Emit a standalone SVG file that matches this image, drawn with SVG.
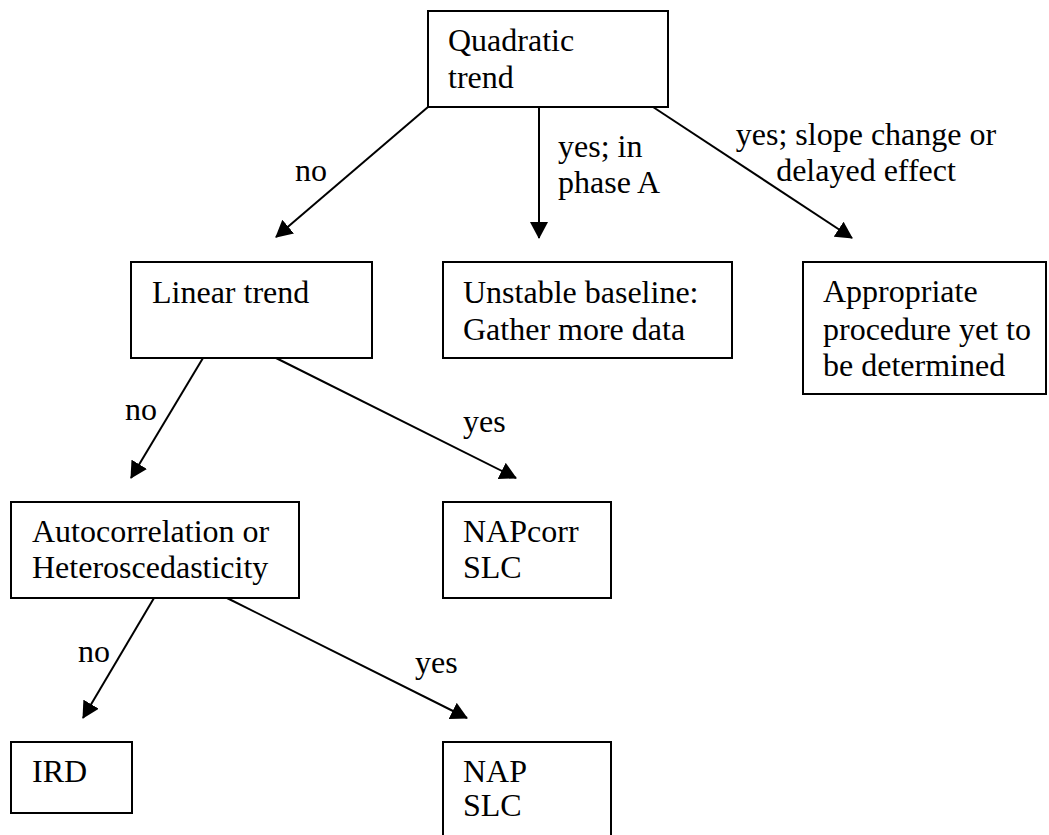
<svg xmlns="http://www.w3.org/2000/svg" width="1049" height="835" viewBox="0 0 1049 835">
<style>
.box{fill:#fff;stroke:#000;stroke-width:2}
.t{font-family:"Liberation Serif","Times New Roman",serif;font-size:32px;fill:#000}
.c{stroke:#000;stroke-width:2;fill:none;marker-end:url(#ah)}
</style>
<defs>
<marker id="ah" markerUnits="userSpaceOnUse" markerWidth="17" markerHeight="18" viewBox="0 0 17 18" refX="16" refY="9" orient="auto">
<path d="M0,0 L17,9 L0,18 z" fill="#000"/>
</marker>
</defs>
<rect width="1049" height="835" fill="#fff"/>
<g id="connectors">
<line class="c" x1="428" y1="107" x2="276" y2="237"/>
<line class="c" x1="539" y1="107" x2="539" y2="238"/>
<line class="c" x1="653" y1="107" x2="852" y2="238"/>
<line class="c" x1="203" y1="358" x2="131" y2="478"/>
<line class="c" x1="276" y1="358" x2="516" y2="478"/>
<line class="c" x1="154" y1="598" x2="83" y2="718"/>
<line class="c" x1="227" y1="598" x2="467" y2="718"/>
<text class="t" x="295" y="181">no</text>
<text class="t" x="558" y="157">yes; in</text>
<text class="t" x="558" y="193">phase A</text>
<text class="t" x="866" y="145" text-anchor="middle">yes; slope change or</text>
<text class="t" x="866" y="181" text-anchor="middle">delayed effect</text>
<text class="t" x="125" y="420">no</text>
<text class="t" x="463" y="432">yes</text>
<text class="t" x="78" y="662">no</text>
<text class="t" x="415" y="673">yes</text>
</g>
<g id="quadratic">
<rect class="box" x="428" y="11" width="240" height="96"/>
<text class="t" x="448" y="51">Quadratic</text>
<text class="t" x="448" y="88">trend</text>
</g>
<g id="linear">
<rect class="box" x="131" y="262" width="241" height="96"/>
<text class="t" x="152" y="303">Linear trend</text>
</g>
<g id="unstable">
<rect class="box" x="443" y="262" width="289" height="96"/>
<text class="t" x="463" y="303">Unstable baseline:</text>
<text class="t" x="463" y="340">Gather more data</text>
</g>
<g id="appropriate">
<rect class="box" x="803" y="262" width="243" height="132"/>
<text class="t" x="823" y="302">Appropriate</text>
<text class="t" x="823" y="340">procedure yet to</text>
<text class="t" x="823" y="376">be determined</text>
</g>
<g id="autocorrelation">
<rect class="box" x="11" y="502" width="288" height="96"/>
<text class="t" x="32" y="542">Autocorrelation or</text>
<text class="t" x="32" y="578">Heteroscedasticity</text>
</g>
<g id="napcorr">
<rect class="box" x="443" y="502" width="168" height="96"/>
<text class="t" x="463" y="542">NAPcorr</text>
<text class="t" x="463" y="578">SLC</text>
</g>
<g id="ird">
<rect class="box" x="11" y="742" width="121" height="71"/>
<text class="t" x="32" y="782">IRD</text>
</g>
<g id="nap">
<rect class="box" x="443" y="742" width="168" height="110"/>
<text class="t" x="463" y="782">NAP</text>
<text class="t" x="463" y="816">SLC</text>
</g>
</svg>
